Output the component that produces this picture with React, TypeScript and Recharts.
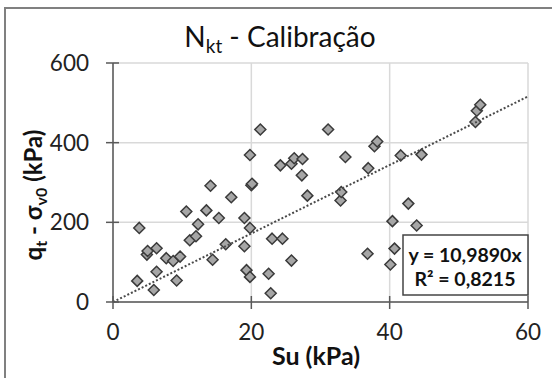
import { ScatterChart, Scatter, XAxis, YAxis, CartesianGrid } from 'recharts';

// Su (kPa) and qt - sigma_v0 (kPa)
const suValues = [
  3.8, 3.5, 4.9, 5.0, 6.3, 5.9, 6.3, 7.7, 8.7, 9.7,
  9.2, 10.6, 11.1, 12.0, 12.3, 13.5, 14.1, 14.4, 15.3, 16.3,
  17.1, 19.0, 19.0, 19.3, 19.8, 19.8, 19.8, 20.0, 20.1, 21.3,
  22.5, 22.8, 23.0, 24.2, 24.5, 25.8, 25.8, 26.2, 27.4, 27.3,
  28.1, 31.1, 32.9, 33.0, 33.6, 36.8, 36.9, 37.8, 38.2, 40.1,
  40.4, 40.7, 41.6, 42.7, 43.9, 44.6, 52.4, 52.6, 53.1,
];
const qValues = [
  186, 53, 119, 128, 135, 30, 76, 110, 103, 114,
  54, 227, 155, 165, 195, 230, 292, 106, 211, 145,
  263, 211, 140, 80, 186, 63, 369, 293, 297, 433,
  71, 22, 159, 343, 159, 104, 347, 361, 359, 318,
  267, 433, 255, 276, 364, 121, 336, 391, 403, 94,
  203, 134, 368, 247, 192, 370, 452, 480, 495,
];

// dotted trend line as drawn in the picture
const trendSu = [0, 60];
const trendQ = [0, 516];

const xTicks = [0, 20, 40, 60];
const yTicks = [0, 200, 400, 600];

const points = suValues.map((su, i) => ({ su, q: qValues[i] }));
const trend = trendSu.map((su, i) => ({ su, q: trendQ[i] }));

const FONT = 'Lato, "Open Sans", sans-serif';
const AXIS = '#595959';
const TICK_SIZE = 7;
const TICK_MARGIN = 17;
const GAP = TICK_SIZE + TICK_MARGIN;

const XTick = (props: any) => {
  const { x, y, payload } = props;
  const axisY = y - GAP;
  return (
    <g>
      <line x1={x} x2={x} y1={axisY - 6} y2={axisY + 7} stroke={AXIS} strokeWidth={1.5} />
      <text x={x} y={y - 2} dy="0.71em" textAnchor="middle" fontSize={22.5} fontFamily={FONT} fill="#222">
        {payload.value}
      </text>
    </g>
  );
};

const YTick = (props: any) => {
  const { x, y, payload } = props;
  const axisX = x + GAP;
  return (
    <g>
      <line x1={axisX - 7} x2={axisX + 6} y1={y} y2={y} stroke={AXIS} strokeWidth={1.5} />
      <text x={x} y={y} dy="0.35em" textAnchor="end" fontSize={22.5} fontFamily={FONT} fill="#222">
        {payload.value}
      </text>
    </g>
  );
};

const Diamond = (props: any) => {
  const { cx, cy } = props;
  const r = 5.5;
  return (
    <path
      d={`M${cx},${cy - r} L${cx + r},${cy} L${cx},${cy + r} L${cx - r},${cy} Z`}
      fill="#a6a6a6"
      stroke="#3a3a3a"
      strokeWidth={1.5}
    />
  );
};

const NoDot = () => <g />;

export default function App() {
  return (
    <div style={{ position: 'absolute', left: 0, top: 0, width: 552, height: 378, background: '#fff' }}>
      <ScatterChart width={552} height={378} margin={{ top: 63, right: 24, bottom: 46, left: 53 }}>
        <CartesianGrid stroke="#d9d9d9" strokeWidth={1.5} />
        <XAxis
          type="number"
          dataKey="su"
          domain={[0, 60]}
          ticks={xTicks}
          interval={0}
          height={30}
          stroke={AXIS}
          strokeWidth={1.5}
          tickLine={false}
          tickSize={TICK_SIZE}
          tickMargin={TICK_MARGIN}
          tick={<XTick />}
        />
        <YAxis
          type="number"
          dataKey="q"
          domain={[0, 600]}
          ticks={yTicks}
          interval={0}
          width={60}
          stroke={AXIS}
          strokeWidth={1.5}
          tickLine={false}
          tickSize={TICK_SIZE}
          tickMargin={TICK_MARGIN}
          tick={<YTick />}
        />
        <Scatter data={points} shape={<Diamond />} isAnimationActive={false} />
        <Scatter
          data={trend}
          shape={<NoDot />}
          line={{ stroke: '#4a4a4a', strokeWidth: 2, strokeDasharray: '2 2' }}
          isAnimationActive={false}
        />
      </ScatterChart>
      <svg
        width={552}
        height={378}
        style={{ position: 'absolute', left: 0, top: 0, pointerEvents: 'none' }}
        fontFamily={FONT}
      >
        <rect x={5} y={8} width={580} height={400} fill="none" stroke="#808080" strokeWidth={2} />
        <text x={280} y={47} textAnchor="middle" fontSize={28} fill="#111">
          N<tspan fontSize={19} dy={6}>kt</tspan>
          <tspan dy={-6}> - Calibração</tspan>
        </text>
        <text
          transform="translate(42,195) rotate(-90)"
          textAnchor="middle"
          fontSize={24}
          fontWeight="bold"
          fill="#111"
        >
          q<tspan fontSize={16} dy={5}>t</tspan>
          <tspan dy={-5}> - σ</tspan>
          <tspan fontSize={16} dy={5}>v0</tspan>
          <tspan dy={-5}> (kPa)</tspan>
        </text>
        <text x={316} y={365} textAnchor="middle" fontSize={25} fontWeight="bold" fill="#111">
          Su (kPa)
        </text>
        <rect x={403} y={235} width={125} height={60} fill="#fff" stroke="#444" strokeWidth={1.5} />
        <text x={465} y={262} textAnchor="middle" fontSize={19.5} fontWeight="bold" fill="#111">
          y = 10,9890x
        </text>
        <text x={465} y={286} textAnchor="middle" fontSize={19.5} fontWeight="bold" fill="#111">
          R² = 0,8215
        </text>
      </svg>
    </div>
  );
}
